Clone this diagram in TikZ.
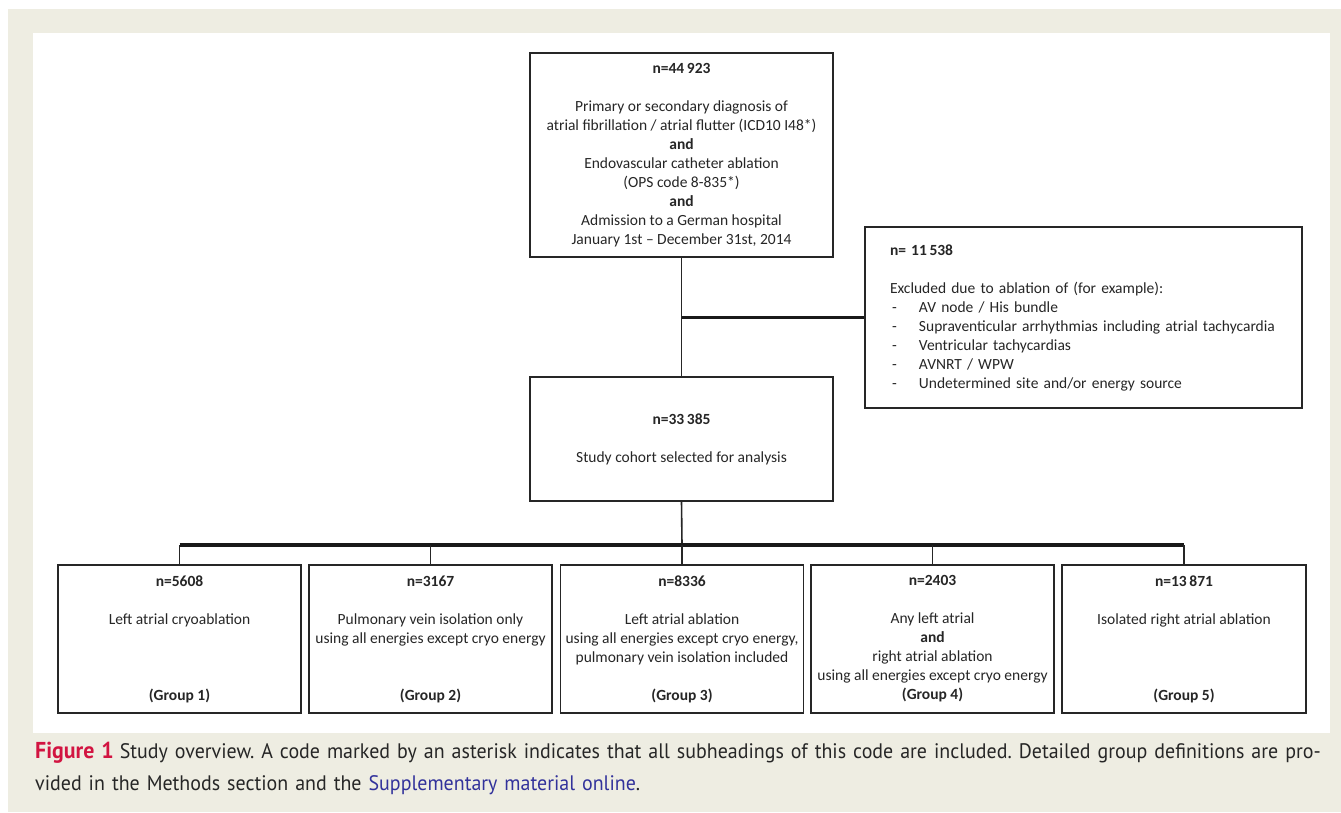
\documentclass[tikz,border=0pt]{standalone}
\usepackage{fontspec}
\setmainfont{Carlito}
\newfontfamily\capfont[FakeStretch=0.95]{PT Sans}
\definecolor{pagebeige}{RGB}{238,237,226}
\definecolor{figred}{RGB}{210,20,65}
\definecolor{linkblue}{RGB}{50,50,155}
\definecolor{inkgray}{RGB}{38,38,38}
\newcommand{\dashitem}[1]{\hspace*{2bp}\makebox[27bp][l]{-}#1}
\frenchspacing

\begin{document}
\begin{tikzpicture}[x=1bp,y=-1bp,
    box/.style={draw=inkgray, line width=1.6bp, align=center, inner sep=0pt,
        text=inkgray, font=\fontsize{15.5bp}{19bp}\selectfont},
    grpbox/.style={box, minimum width=243bp, minimum height=148bp},
    link/.style={draw=inkgray, line width=1.6bp},
    bar/.style={draw=black!90, line width=3.2bp}]
    \useasboundingbox (0,0) rectangle (1341,812);
    \fill[pagebeige] (8,9) rectangle (1341,812);
    \fill[white] (33,33) rectangle (1330,733);

    % inclusion
    \node[box, minimum width=303bp, minimum height=204bp] (total) at (681.5,155)
        {\textbf{n=44\,923}\\[19bp]
         Primary or secondary diagnosis of\\
         atrial fibrillation / atrial flutter (ICD10 I48*)\\
         \textbf{and}\\
         Endovascular catheter ablation\\
         (OPS code 8-835*)\\
         \textbf{and}\\
         Admission to a German hospital\\
         January 1st -- December 31st, 2014};
    \node[box, minimum width=303bp, minimum height=124bp] (cohort) at (681.5,439)
        {\textbf{n=33\,385}\\[19bp] Study cohort selected for analysis};
    \node[box, align=left, text width=387bp, inner xsep=25bp, minimum height=181bp]
        (excl) at (1083.5,317.5)
        {\textbf{n= 11\,538}\\[19bp]
         Excluded due to ablation of (for example):\\
         \dashitem{AV node / His bundle}\\
         \dashitem{Supraventicular arrhythmias including atrial tachycardia}\\
         \dashitem{Ventricular tachycardias}\\
         \dashitem{AVNRT / WPW}\\
         \dashitem{Undetermined site and/or energy source}};

    % groups
    \node[grpbox] (g1) at (179.5,639)
        {\textbf{n=5608}\\[19bp] Left atrial cryoablation\\[57bp] \textbf{(Group 1)}};
    \node[grpbox] (g2) at (430.5,639)
        {\textbf{n=3167}\\[19bp] Pulmonary vein isolation only\\
         using all energies except cryo energy\\[38bp] \textbf{(Group 2)}};
    \node[grpbox] (g3) at (682,639)
        {\textbf{n=8336}\\[19bp] Left atrial ablation\\
         using all energies except cryo energy,\\
         pulmonary vein isolation included\\[19bp] \textbf{(Group 3)}};
    \node[grpbox] (g4) at (932.5,639)
        {\textbf{n=2403}\\[19bp] Any left atrial\\ \textbf{and}\\ right atrial ablation\\
         using all energies except cryo energy\\ \textbf{(Group 4)}};
    \node[grpbox, minimum width=244bp] (g5) at (1184,639)
        {\textbf{n=13\,871}\\[19bp] Isolated right atrial ablation\\[57bp] \textbf{(Group 5)}};

    % connectors
    \coordinate (bus) at (682,545);
    \draw[link] (total.south) -- (cohort.north);
    \draw[bar] (total.south |- excl.west) -- (excl.west);
    \draw[link] (cohort.south) -- (bus);
    \draw[bar] (g1.north |- bus) -- (g5.north |- bus);
    \foreach \g in {g1,g2,g3,g4,g5}
        \draw[link] (\g.north |- bus) -- (\g.north);

    % caption
    \node[anchor=north west, align=left, text width=1300bp, inner sep=0pt,
        text=inkgray, font=\capfont\fontsize{21bp}{32bp}\selectfont] (caption) at (35,742)
        {{\fontsize{23bp}{32bp}\selectfont\bfseries\color{figred}Figure 1}\hspace{6bp}Study overview. A code marked by an asterisk indicates that all subheadings of this code are included. Detailed group definitions are pro-\\
         vided in the Methods section and the {\color{linkblue}Supplementary material online}.};
\end{tikzpicture}
\end{document}
